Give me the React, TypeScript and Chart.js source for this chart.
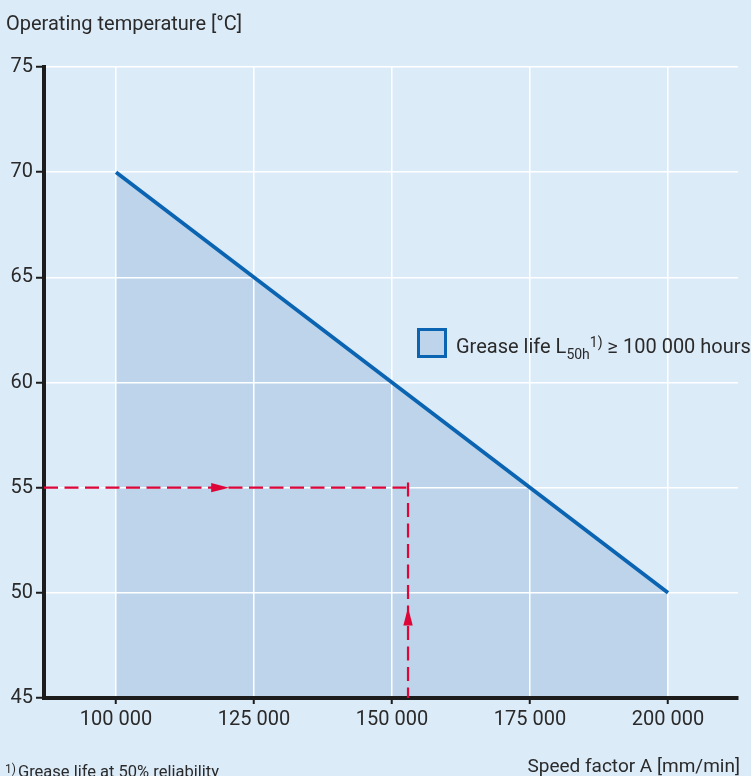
import { useEffect, useRef } from 'react';
import { Chart, registerables } from 'chart.js';

Chart.register(...registerables);

// ---- data ----
const X_AXIS_RANGE = [86950, 212680];
const Y_AXIS_RANGE = [45, 75];
const X_TICKS = [100000, 125000, 150000, 175000, 200000];
const Y_TICKS = [45, 50, 55, 60, 65, 70, 75];

// grease life limit line (area below = L50h >= 100 000 h)
const LIMIT_SPEED = [100000, 200000];
const LIMIT_TEMP = [70, 50];

// example reading (red dashed)
const EXAMPLE_H_SPEED = [86950, 153800];
const EXAMPLE_H_TEMP = [55, 55];
const EXAMPLE_V_SPEED = [152900, 152900];
const EXAMPLE_V_TEMP = [55.25, 45];

// arrow heads (tip positions) and directions
const ARROW_SPEED = [120500, 152900];
const ARROW_TEMP = [55, 49.3];
const ARROW_DIR = ['right', 'up'];

const Y_TITLE = 'Operating temperature [°C]';
const X_TITLE = 'Speed factor A [mm/min]';
const LEGEND_MAIN = 'Grease life L';
const LEGEND_SUB = '50h';
const LEGEND_SUP = '1)';
const LEGEND_REST = ' ≥ 100 000 hours';
const FOOT_SUP = '1)';
const FOOT_TEXT = 'Grease life at 50% reliability';

// ---- styles ----
const BG = '#dcebf8';
const FILL = '#bdd4eb';
const BLUE = '#0a64b2';
const RED = '#de0538';
const INK = '#2a2a2a';
const AXIS = '#1c1c1c';
const FONT = 'Roboto, sans-serif';

const fmt = (v: number) => String(v).replace(/\B(?=(\d{3})+(?!\d))/g, ' ');

const pts = (xs: number[], ys: number[]) => xs.map((x, i) => ({ x, y: ys[i] }));

const arrowPlugin = {
  id: 'arrowHeads',
  afterDatasetsDraw(chart: any) {
    const { ctx, scales } = chart;
    const xs = scales.x;
    const ys = scales.y;
    ARROW_SPEED.forEach((v, i) => {
      const px = xs.getPixelForValue(v);
      const py = ys.getPixelForValue(ARROW_TEMP[i]);
      const len = 18;
      const hw = 4.7;
      ctx.save();
      ctx.fillStyle = RED;
      ctx.beginPath();
      if (ARROW_DIR[i] === 'right') {
        ctx.moveTo(px, py);
        ctx.lineTo(px - len, py - hw);
        ctx.lineTo(px - len, py + hw);
      } else {
        ctx.moveTo(px, py);
        ctx.lineTo(px - hw, py + len);
        ctx.lineTo(px + hw, py + len);
      }
      ctx.closePath();
      ctx.fill();
      ctx.restore();
    });
  },
};

export default function App() {
  const ref = useRef<HTMLCanvasElement | null>(null);

  useEffect(() => {
    if (!ref.current) return;
    const chart = new Chart(ref.current, {
      type: 'line',
      data: {
        datasets: [
          {
            label: 'limit',
            data: pts(LIMIT_SPEED, LIMIT_TEMP),
            borderColor: BLUE,
            borderWidth: 3.8,
            backgroundColor: FILL,
            fill: 'start',
            pointRadius: 0,
            order: 2,
          },
          {
            label: 'exH',
            data: pts(EXAMPLE_H_SPEED, EXAMPLE_H_TEMP),
            borderColor: RED,
            borderWidth: 2.2,
            borderDash: [14, 6.5],
            fill: false,
            pointRadius: 0,
            order: 1,
          },
          {
            label: 'exV',
            data: pts(EXAMPLE_V_SPEED, EXAMPLE_V_TEMP),
            borderColor: RED,
            borderWidth: 2.2,
            borderDash: [14, 6.5],
            fill: false,
            pointRadius: 0,
            order: 1,
          },
        ],
      },
      options: {
        animation: false,
        responsive: true,
        maintainAspectRatio: false,
        layout: { padding: { top: 67, right: 13, left: 0, bottom: 0 } },
        plugins: {
          legend: { display: false },
          tooltip: { enabled: false },
          filler: { drawTime: 'beforeDraw' },
        },
        scales: {
          x: {
            type: 'linear',
            min: X_AXIS_RANGE[0],
            max: X_AXIS_RANGE[1],
            afterBuildTicks: (s: any) => {
              s.ticks = X_TICKS.map((value) => ({ value }));
            },
            afterFit: (s: any) => {
              s.height = 78;
            },
            grid: {
              color: '#ffffff',
              lineWidth: 1.5,
              tickColor: AXIS,
              tickLength: 6,
              tickWidth: 2,
            },
            border: { color: AXIS, width: 4 },
            ticks: {
              color: INK,
              font: { family: FONT, size: 20 },
              padding: 4,
              maxRotation: 0,
              autoSkip: false,
              callback: (v: any) => fmt(Number(v)),
            },
          },
          y: {
            type: 'linear',
            min: Y_AXIS_RANGE[0],
            max: Y_AXIS_RANGE[1],
            afterBuildTicks: (s: any) => {
              s.ticks = Y_TICKS.map((value) => ({ value }));
            },
            afterFit: (s: any) => {
              s.width = 44;
            },
            grid: {
              color: '#ffffff',
              lineWidth: 1.5,
              tickColor: AXIS,
              tickLength: 8,
              tickWidth: 2,
            },
            border: { color: AXIS, width: 4 },
            ticks: {
              color: INK,
              font: { family: FONT, size: 20 },
              padding: 3,
              autoSkip: false,
              callback: (v: any) => String(v),
            },
          },
        },
      } as any,
      plugins: [arrowPlugin],
    });
    return () => chart.destroy();
  }, []);

  return (
    <div
      style={{
        position: 'absolute',
        left: 0,
        top: 0,
        width: 751,
        height: 776,
        overflow: 'hidden',
        background: BG,
        fontFamily: FONT,
        color: INK,
      }}
    >
      <div style={{ position: 'absolute', left: 0, top: 0, width: 751, height: 776 }}>
        <canvas ref={ref} />
      </div>
      <div style={{ position: 'absolute', left: 6, top: 13, fontSize: 20, lineHeight: '20px', whiteSpace: 'nowrap' }}>
        {Y_TITLE}
      </div>
      <div style={{ position: 'absolute', right: 11, top: 756, fontSize: 19, lineHeight: '19px', whiteSpace: 'nowrap' }}>
        {X_TITLE}
      </div>
      <div style={{ position: 'absolute', left: 5, top: 764, fontSize: 16.5, lineHeight: '16px', whiteSpace: 'nowrap' }}>
        <span style={{ fontSize: 12, position: 'relative', top: -4, marginRight: 2 }}>{FOOT_SUP}</span>
        {FOOT_TEXT}
      </div>
      <div
        style={{
          position: 'absolute',
          left: 417,
          top: 328,
          width: 30,
          height: 30,
          boxSizing: 'border-box',
          border: `3px solid ${BLUE}`,
          background: FILL,
        }}
      />
      <div style={{ position: 'absolute', left: 456, top: 336, fontSize: 20, lineHeight: '20px', whiteSpace: 'nowrap' }}>
        {LEGEND_MAIN}
        <span style={{ fontSize: 14, position: 'relative', top: 6 }}>{LEGEND_SUB}</span>
        <span style={{ fontSize: 14, position: 'relative', top: -6 }}>{LEGEND_SUP}</span>
        {LEGEND_REST}
      </div>
    </div>
  );
}
